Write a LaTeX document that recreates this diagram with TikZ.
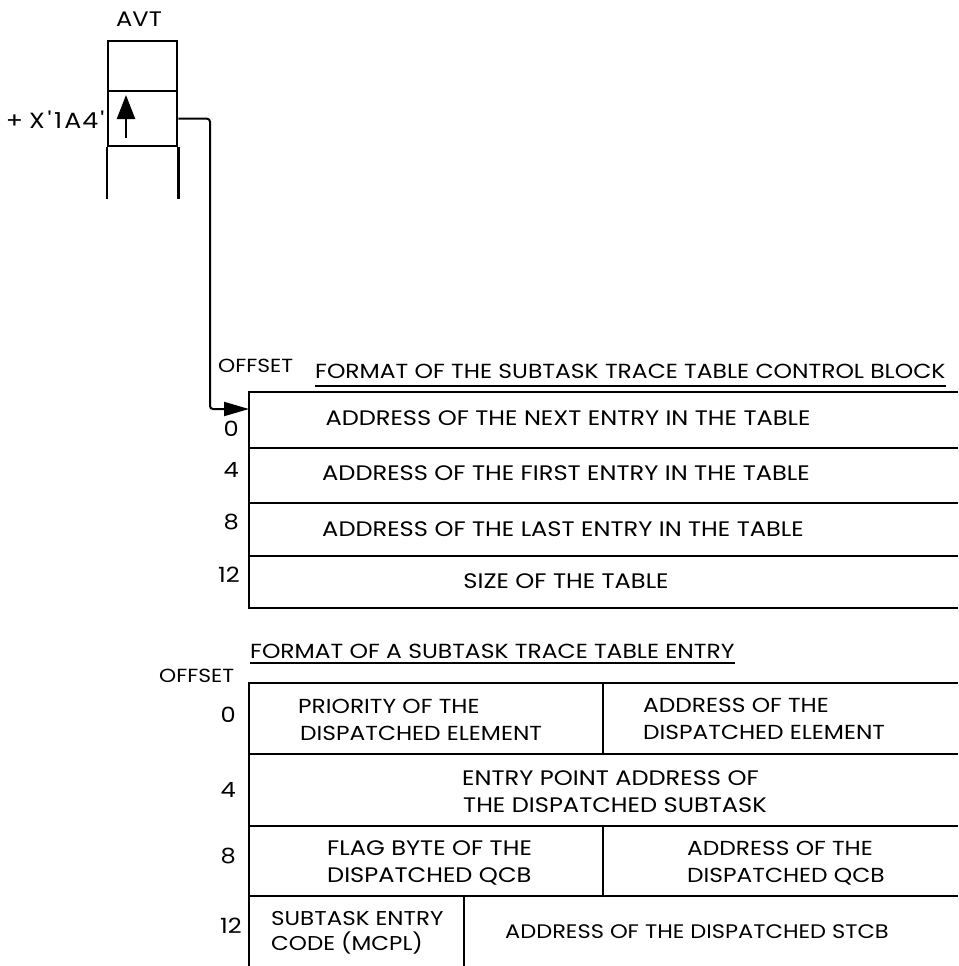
\documentclass[tikz,border=0pt]{standalone}
\usepackage{fontspec}
\setmainfont{Poppins}[FakeStretch=1.15]
\usetikzlibrary{arrows.meta}
\newcommand{\fsz}[1]{\fontsize{#1}{27}\selectfont}
\begin{document}
\begin{tikzpicture}[x=1pt,y=-1pt,
  box/.style={line width=2.4pt},
  rule/.style={line width=1.6pt},
  txt/.style={font=\fsz{21}, inner sep=0pt, anchor=base west},
  num/.style={font=\fsz{21}, inner sep=0pt, anchor=base east},
  ttl/.style={font=\fsz{20.4}, inner sep=0pt, anchor=base west},
  cell/.style={draw, line width=2.4pt, inner sep=0pt, anchor=north west, minimum width=69pt},
  ptr/.style={line width=2pt, rounded corners=3pt, -{Triangle[length=25pt,width=14pt]}},
]
\useasboundingbox (0,0) rectangle (958,966);

% AVT
\node[txt, anchor=base] (avtlbl) at (139,27) {AVT};
\node[cell, minimum height=50pt] (avt1) at (107,40) {};
\node[cell, minimum height=55pt] (avt2) at (107,90) {};
\draw[box] (avt2.south west) -- ++(0,52);
\draw[box] (avt2.south east) -- ++(0,52);
\node[num, font=\fsz{22}] (avtoff) at (104,128) {+\hspace{6pt}X\kern3pt\textquotesingle\kern3pt 1\kern2pt A\kern1pt 4\kern2pt\textquotesingle};
\coordinate (ptrtail) at (126,138);
\coordinate (ptrhead) at (126,95);
\draw[line width=2.4pt, -{Triangle[length=24pt,width=18pt]}] (ptrtail) -- (ptrhead);

% connector
\coordinate (drop) at (210,300);
\coordinate (cbin) at (249,409);
\draw[ptr] (avt2.east) -| (drop) |- (cbin);

% control block
\node[txt, font=\fsz{19}] (off1) at (218,372) {OFFSET};
\node[ttl] (t1) at (315,378) {FORMAT OF THE SUBTASK TRACE TABLE CONTROL BLOCK};
\draw[rule] ([yshift=-8pt]t1.base west) -- ([yshift=-8pt]t1.base east);
\draw[box] (958,392) -- (249,392) -- (249,608) -- (958,608);
\draw[box] (249,448) -- (958,448);
\draw[box] (249,503) -- (958,503);
\draw[box] (249,556) -- (958,556);
\node[num] (c0) at (239,436) {0};
\node[num] (c4) at (239,477) {4};
\node[num] (c8) at (239,529) {8};
\node[num] (c12) at (240,582) {12};
\node[txt, anchor=base] (cb0) at (568,425) {ADDRESS OF THE NEXT ENTRY IN THE TABLE};
\node[txt, anchor=base] (cb1) at (566,480) {ADDRESS OF THE FIRST ENTRY IN THE TABLE};
\node[txt, anchor=base] (cb2) at (563,536) {ADDRESS OF THE LAST ENTRY IN THE TABLE};
\node[txt, anchor=base] (cb3) at (566,588) {SIZE OF THE TABLE};

% entry
\node[ttl] (t2) at (250,658) {FORMAT OF A SUBTASK TRACE TABLE ENTRY};
\draw[rule] ([yshift=-5pt]t2.base west) -- ([yshift=-5pt]t2.base east);
\node[txt, font=\fsz{19}] (off2) at (159,682) {OFFSET};
\draw[box] (958,683) -- (249,683) -- (249,966);
\draw[box] (249,754) -- (958,754);
\draw[box] (249,826) -- (958,826);
\draw[box] (249,896) -- (958,896);
\draw[box] (603,683) -- (603,754);
\draw[box] (603,826) -- (603,896);
\draw[box] (464,896) -- (464,966);
\node[num] (e0) at (236,722) {0};
\node[num] (e4) at (236,797) {4};
\node[num] (e8) at (236,863) {8};
\node[num] (e12) at (242,933) {12};

\node[txt, font=\fsz{20.3}] (e0a1) at (298,713) {PRIORITY OF THE};
\node[txt, font=\fsz{20.3}] (e0a2) at (300,740) {DISPATCHED ELEMENT};
\node[txt, font=\fsz{20.3}] (e0b1) at (643,712) {ADDRESS OF THE};
\node[txt, font=\fsz{20.3}] (e0b2) at (643,739) {DISPATCHED ELEMENT};
\node[txt] (e11) at (462,785) {ENTRY POINT ADDRESS OF};
\node[txt] (e12t) at (463,812) {THE DISPATCHED SUBTASK};
\node[txt] (e2a1) at (327,855) {FLAG BYTE OF THE};
\node[txt] (e2a2) at (327,882) {DISPATCHED QCB};
\node[txt, font=\fsz{20.3}] (e2b1) at (687,855) {ADDRESS OF THE};
\node[txt, font=\fsz{20.3}] (e2b2) at (687,882) {DISPATCHED QCB};
\node[txt, font=\fsz{20}] (e3a1) at (271,925) {SUBTASK ENTRY};
\node[txt, font=\fsz{20}] (e3a2) at (271,950) {CODE (MCPL)};
\node[txt, font=\fsz{19.6}] (e3b) at (505,938) {ADDRESS OF THE DISPATCHED STCB};
\end{tikzpicture}
\end{document}
